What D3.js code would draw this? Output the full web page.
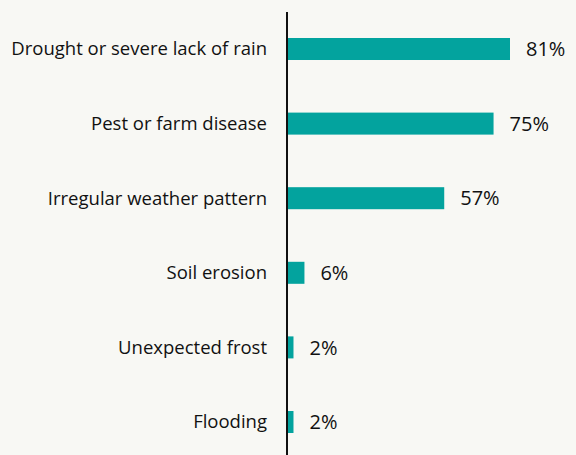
<!DOCTYPE html>
<html><head><meta charset="utf-8">
<script src="https://cdn.jsdelivr.net/npm/d3@7"></script>
<style>html,body{margin:0;padding:0;background:#f8f8f4;}svg{display:block;}</style>
</head><body>
<script>
const categories = ["Drought or severe lack of rain","Pest or farm disease","Irregular weather pattern","Soil erosion","Unexpected frost","Flooding"];
const values = [81,75,57,6,2,2];

const W=576,H=455;
const svg=d3.select("body").append("svg").attr("width",W).attr("height",H);
svg.append("rect").attr("width",W).attr("height",H).attr("fill","#f8f8f4");
const x0=288;
const x=d3.scaleLinear().domain([0,81]).range([x0,510]);
const y=d3.scaleBand().domain(categories).range([11.7,459.3]).paddingInner(0.705).paddingOuter(0.3525);
const font="'Open Sans', sans-serif";
svg.selectAll("rect.bar").data(categories).join("rect").attr("class","bar")
  .attr("x",x(0)).attr("y",d=>y(d)).attr("height",y.bandwidth())
  .attr("width",(d,i)=>x(values[i])-x(0)).attr("fill","#03a39e");
svg.selectAll("text.val").data(categories).join("text").attr("class","val")
  .attr("x",(d,i)=>x(values[i])+16).attr("y",d=>y(d)+y.bandwidth()/2)
  .attr("dy","0.36em").attr("font-family",font).attr("font-size",20).attr("fill","#111")
  .text((d,i)=>values[i]+"%");
svg.selectAll("text.cat").data(categories).join("text").attr("class","cat")
  .attr("x",267).attr("y",d=>y(d)+y.bandwidth()/2)
  .attr("dy","0.35em").attr("text-anchor","end").attr("font-family",font).attr("font-size",18.5).attr("fill","#111")
  .text(d=>d);
svg.append("line").attr("x1",287).attr("x2",287).attr("y1",12).attr("y2",H).attr("stroke","#111").attr("stroke-width",2);
</script>
</body></html>
